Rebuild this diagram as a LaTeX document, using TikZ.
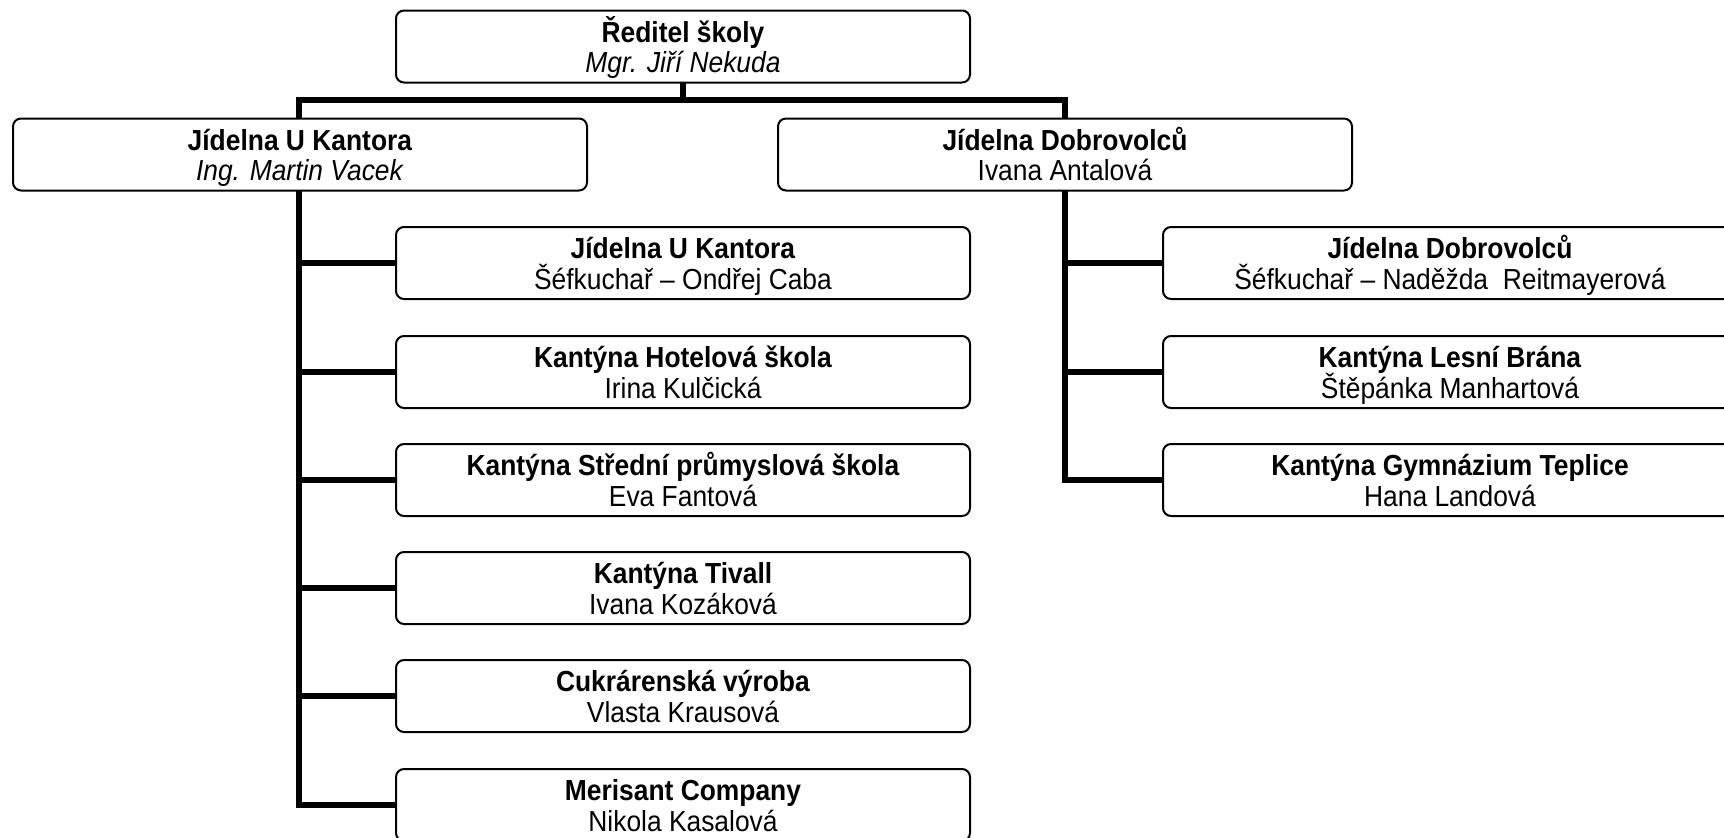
\documentclass[tikz,border=0pt]{standalone}
\usepackage{fontspec}
\setmainfont{Liberation Sans}[FakeStretch=0.91]
\pgfdeclarelayer{bg}
\pgfsetlayers{bg,main}
\lineskiplimit=-100pt\relax
\newcommand{\twoline}[2]{\rule[-0.5pt]{0pt}{12pt}\smash{\textbf{#1}}\\\rule[-0.5pt]{0pt}{12pt}\smash{#2}}
\tikzset{
  box/.style={draw=black, line width=1pt, rounded corners=4pt, fill=white,
    minimum width=287pt, minimum height=36pt, inner sep=0pt, align=center,
    font=\fontsize{14.5}{15.4}\selectfont},
  conn/.style={draw=black, line width=2.6pt, line join=miter, line cap=rect}
}
\begin{document}
\begin{tikzpicture}[x=0.5pt,y=-0.5pt]
\useasboundingbox (0,0) rectangle (1724,837);
\node[box] (top) at (683,46.5) {\twoline{Ředitel školy}{\textit{Mgr. Jiří Nekuda}}};
\node[box] (L) at (300,154.5) {\twoline{Jídelna U Kantora}{\textit{Ing. Martin Vacek}}};
\node[box] (R) at (1065,154.5) {\twoline{Jídelna Dobrovolců}{Ivana Antalová}};
\node[box] (a1) at (683,263) {\twoline{Jídelna U Kantora}{Šéfkuchař – Ondřej Caba}};
\node[box] (a2) at (683,372) {\twoline{Kantýna Hotelová škola}{Irina Kulčická}};
\node[box] (a3) at (683,480) {\twoline{Kantýna Střední průmyslová škola}{Eva Fantová}};
\node[box] (a4) at (683,588) {\twoline{Kantýna Tivall}{Ivana Kozáková}};
\node[box] (a5) at (683,696) {\twoline{Cukrárenská výroba}{Vlasta Krausová}};
\node[box] (a6) at (683,805) {\twoline{Merisant Company}{Nikola Kasalová}};
\node[box] (b1) at (1450,263) {\twoline{Jídelna Dobrovolců}{Šéfkuchař – Naděžda\ \ Reitmayerová}};
\node[box] (b2) at (1450,372) {\twoline{Kantýna Lesní Brána}{Štěpánka Manhartová}};
\node[box] (b3) at (1450,480) {\twoline{Kantýna Gymnázium Teplice}{Hana Landová}};
\coordinate (jL) at (299,100);
\coordinate (jR) at (1065,100);
\begin{pgfonlayer}{bg}
\draw[conn] (top.south) -- (top.south |- jL);
\draw[conn] (jL) -- (jR);
\draw[conn] (jL) |- (a6.west);
\draw[conn] (jL |- a1.west) -- (a1.west);
\draw[conn] (jL |- a2.west) -- (a2.west);
\draw[conn] (jL |- a3.west) -- (a3.west);
\draw[conn] (jL |- a4.west) -- (a4.west);
\draw[conn] (jL |- a5.west) -- (a5.west);
\draw[conn] (jR) |- (b3.west);
\draw[conn] (jR |- b1.west) -- (b1.west);
\draw[conn] (jR |- b2.west) -- (b2.west);
\end{pgfonlayer}
\end{tikzpicture}
\end{document}
